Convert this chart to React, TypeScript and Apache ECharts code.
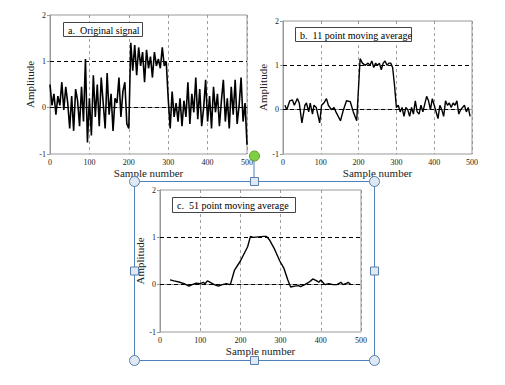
import React, { useEffect, useRef } from "react";
import * as echarts from "echarts";

// Panel a: original signal, sampled every 5 samples (0..500)
const aValues = [
  0.5, 0.05, 0.3, -0.15, 0.25, 0.05, 0.55, -0.05, 0.45, 0.1,
  -0.45, 0.25, -0.5, 0.4, 0.15, -0.4, 0.45, -0.3, 1.05, -0.75,
  0.2, -0.6, 0.7, -0.2, 0.5, -0.4, 0.65, 0.1, -0.45, 0.75,
  -0.15, 0.3, -0.5, 0.2, 0.1, 0.65, -0.2, 0.35, 0.55, -0.35,
  -0.45, 1.4, 0.8, 1.35, 0.7, 1.3, 0.9, 1.2, 0.55, 1.25,
  0.85, 1.1, 0.65, 1.2, 0.9, 1.05, 0.85, 1.3, 0.9, 1.0,
  0.2, -0.45, 0.35, -0.2, 0.1, -0.3, 0.2, -0.4, 0.15, -0.2,
  0.55, -0.35, 0.3, -0.1, 0.65, -0.25, 0.4, -0.4, 0.0, 0.6,
  -0.3, 0.25, -0.45, 0.45, -0.1, 0.3, -0.4, 0.15, 0.6, -0.3,
  0.2, -0.45, 0.45, -0.15, 0.6, -0.35, 0.05, 0.65, -0.3, 0.1,
  -0.8,
];
const aStep = 5;

// Panel b: 11 point moving average
const bSamples = [
  5, 10, 18, 25, 30, 38, 43, 50, 58, 62, 68, 72, 78, 82, 88, 97, 102, 108, 115, 120,
  128, 135, 140, 152, 160, 168, 178, 186, 195, 204, 210, 218, 225, 230, 235, 240, 245, 250, 255, 260,
  265, 270, 275, 280, 285, 290, 295, 300, 305, 310, 315, 320, 325, 330, 335, 340, 345, 350, 355, 360,
  365, 370, 380, 385, 390, 395, 400, 410, 415, 420, 425, 430, 435, 440, 445, 450, 455, 460, 465, 470,
  480, 485, 490, 495,
];
const bValues = [
  0.1, 0.0, 0.2, 0.22, 0.1, 0.25, 0.15, -0.3, 0.1, 0.15, -0.05, 0.15, -0.1, 0.1, 0.05, -0.3, 0.1, 0.15, 0.25, 0.1,
  0.0, 0.05, -0.05, -0.25, 0.0, 0.2, 0.18, -0.05, -0.25, 1.15, 1.05, 1.0, 1.05, 1.0, 1.1, 0.95, 1.05, 1.0, 1.05, 0.9,
  1.05, 1.1, 1.0, 1.05, 1.05, 0.95, 0.55, 0.05, 0.1, -0.05, 0.05, -0.15, 0.05, 0.0, -0.15, 0.05, -0.1, 0.2, -0.05, -0.1,
  0.1, -0.05, 0.3, 0.2, 0.0, 0.25, 0.1, -0.2, 0.1, 0.0, -0.15, 0.2, 0.1, 0.15, 0.05, 0.15, 0.1, 0.2, -0.1, 0.0,
  0.1, -0.05, 0.05, -0.15,
];

// Panel c: 51 point moving average
const cSamples = [
  25, 35, 50, 60, 72, 80, 90, 100, 108, 112, 118, 125, 135, 145, 155, 165, 175, 185, 200, 212,
  218, 225, 232, 245, 258, 265, 272, 285, 298, 308, 318, 325, 335, 345, 350, 360, 370, 375, 380, 390,
  395, 400, 410, 420, 430, 440, 450, 455, 465, 468, 475,
];
const cValues = [
  0.1, 0.08, 0.05, 0.02, -0.03, 0.0, 0.03, 0.02, 0.05, 0.02, 0.08, 0.05, 0.0, -0.03, 0.0, 0.02, 0.0, 0.3, 0.5, 0.7,
  0.8, 1.02, 1.0, 1.01, 1.02, 1.02, 0.95, 0.75, 0.5, 0.35, 0.1, -0.05, -0.03, -0.02, -0.04, 0.0, 0.05, 0.08, 0.12, 0.08,
  0.05, 0.1, 0.0, 0.02, 0.0, 0.0, 0.05, 0.0, 0.03, 0.05, 0.0,
];

const panelTitles = ["a.  Original signal", "b.  11 point moving average", "c.  51 point moving average"];
const xTicks = [0, 100, 200, 300, 400, 500];
const yTicks = [-1, 0, 1, 2];
const xAxisTitle = "Sample number";
const yAxisTitle = "Amplitude";

const FONT = "Liberation Serif";

export default function App() {
  const ref = useRef<HTMLDivElement>(null);
  useEffect(() => {
    if (!ref.current) return;
    const chart = echarts.init(ref.current, undefined, { renderer: "svg" });

    const grids = [
      { left: 50, top: 15, width: 197, height: 139 },
      { left: 283, top: 21, width: 189, height: 133 },
      { left: 160, top: 190, width: 201, height: 142 },
    ];
    const boxes = [
      { x: 63, y: 22, w: 79, h: 14 },
      { x: 295, y: 27, w: 116, h: 14 },
      { x: 172, y: 197, w: 123, h: 15 },
    ];
    const aData = aValues.map((v, i) => [i * aStep, v]);
    const bData = bSamples.map((s, i) => [s, bValues[i]]);
    const cData = cSamples.map((s, i) => [s, cValues[i]]);
    const datas = [aData, bData, cData];

    const xAxes = grids.map((_, i) => ({
      type: "value",
      gridIndex: i,
      min: xTicks[0],
      max: xTicks[xTicks.length - 1],
      interval: 100,
      name: xAxisTitle,
      nameLocation: "middle",
      nameGap: 13,
      nameTextStyle: { fontFamily: FONT, fontSize: 11, color: "#222" },
      axisLine: { show: true, lineStyle: { color: "#999", width: 1 } },
      axisTick: { show: true, length: 3, lineStyle: { color: "#999" } },
      axisLabel: { fontFamily: FONT, fontSize: 8, color: "#222", margin: 4 },
      splitLine: { show: true, lineStyle: { color: "#888", type: [3, 3], width: 0.8 } },
    }));
    const yAxes = grids.map((_, i) => ({
      type: "value",
      gridIndex: i,
      min: yTicks[0],
      max: yTicks[yTicks.length - 1],
      interval: 1,
      name: yAxisTitle,
      nameLocation: "middle",
      nameRotate: 90,
      nameGap: 13,
      nameTextStyle: { fontFamily: FONT, fontSize: 11, color: "#222" },
      axisLine: { show: true, lineStyle: { color: "#999", width: 1 } },
      axisTick: { show: true, length: 3, lineStyle: { color: "#999" } },
      axisLabel: { fontFamily: FONT, fontSize: 8, color: "#222", margin: 4 },
      splitLine: { show: false },
    }));

    const series = datas.map((d, i) => ({
      type: "line",
      xAxisIndex: i,
      yAxisIndex: i,
      data: d,
      showSymbol: false,
      symbol: "none",
      lineStyle: { color: "#000", width: i === 0 ? 1.6 : 1.4 },
      markLine: {
        silent: true,
        symbol: "none",
        label: { show: false },
        lineStyle: { color: "#000", type: [4, 3], width: 1.1 },
        data: [{ yAxis: 0 }, { yAxis: 1 }],
      },
      z: 3,
    }));

    const graphics: any[] = [];
    boxes.forEach((b, i) => {
      graphics.push({
        type: "rect",
        shape: { x: b.x + 0.5, y: b.y + 0.5, width: b.w, height: b.h },
        style: { fill: "#fff", stroke: "#444", lineWidth: 1 },
        z: 10,
      });
      graphics.push({
        type: "text",
        x: b.x + 5,
        y: b.y + b.h / 2 + 1,
        style: {
          text: panelTitles[i],
          fontFamily: FONT,
          fontSize: 10,
          fill: "#000",
          verticalAlign: "middle",
          align: "left",
        },
        z: 11,
      });
    });

    // selection frame around panel c
    const sel = { l: 134, t: 181, r: 374, b: 360 };
    const blue = "#4f81bd";
    const cx = (sel.l + sel.r) / 2;
    const cy = (sel.t + sel.b) / 2;
    graphics.push({
      type: "line",
      shape: { x1: cx, y1: 161, x2: cx, y2: sel.t },
      style: { stroke: blue, lineWidth: 1 },
      z: 20,
    });
    graphics.push({
      type: "rect",
      shape: { x: sel.l + 0.5, y: sel.t + 0.5, width: sel.r - sel.l, height: sel.b - sel.t },
      style: { fill: "none", stroke: blue, lineWidth: 1 },
      z: 20,
    });
    [
      [sel.l, sel.t],
      [sel.r, sel.t],
      [sel.l, sel.b],
      [sel.r, sel.b],
    ].forEach(([x, y]) => {
      graphics.push({
        type: "circle",
        shape: { cx: x + 0.5, cy: y + 0.5, r: 5 },
        style: { fill: "#dfe9f5", stroke: "#5b7fa8", lineWidth: 1 },
        z: 21,
      });
    });
    [
      [cx, sel.t],
      [cx, sel.b],
      [sel.l, cy],
      [sel.r, cy],
    ].forEach(([x, y]) => {
      graphics.push({
        type: "rect",
        shape: { x: x - 3.5, y: y - 3.5, width: 8, height: 8 },
        style: { fill: "#dfe9f5", stroke: "#5b7fa8", lineWidth: 1 },
        z: 21,
      });
    });
    graphics.push({
      type: "circle",
      shape: { cx: cx + 0.5, cy: 156, r: 5 },
      style: { fill: "#7ed040", stroke: "#5a9a2a", lineWidth: 1 },
      z: 21,
    });

    chart.setOption({
      animation: false,
      backgroundColor: "#fff",
      textStyle: { fontFamily: FONT },
      grid: grids.map((g) => ({ ...g, show: true, borderColor: "#999", borderWidth: 1, backgroundColor: "transparent" })),
      xAxis: xAxes,
      yAxis: yAxes,
      series,
      graphic: graphics,
    });
    return () => chart.dispose();
  }, []);
  return (
    <div
      ref={ref}
      style={{ position: "fixed", left: 0, top: 0, width: 505, height: 385, background: "#fff" }}
    />
  );
}
